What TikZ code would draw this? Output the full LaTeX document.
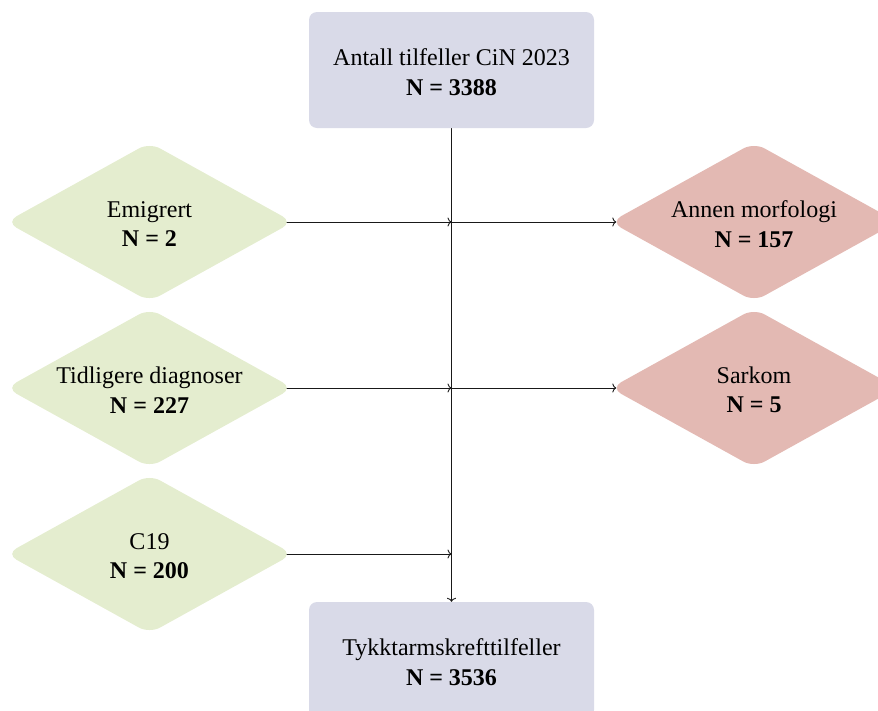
\documentclass[tikz,border=0pt]{standalone}
\usepackage{fontspec}
\setmainfont{Liberation Serif}
\usetikzlibrary{shapes.geometric,backgrounds,arrows.meta}
\definecolor{boxc}{HTML}{D9DAE8}
\definecolor{greenc}{HTML}{E4EDCF}
\definecolor{redc}{HTML}{E3B9B3}
\begin{document}
\begin{tikzpicture}[x=1pt,y=-1pt,
  txt/.style={align=center,font=\fontsize{24}{29.5}\selectfont,inner sep=0pt,yshift=-2pt},
  box/.style={rectangle,rounded corners=8pt,fill=boxc,minimum width=285pt,minimum height=116pt,inner sep=0pt},
  dia/.style={diamond,rounded corners=12pt,minimum width=287pt,minimum height=159pt,inner sep=0pt},
  gdia/.style={dia,fill=greenc},
  rdia/.style={dia,fill=redc},
  conn/.style={draw=black!90,line width=0.9pt,-{To[length=4pt,width=9pt]}}]
\useasboundingbox (0,0) rectangle (878,710);
\clip (0,0) rectangle (878,710);
\node[box] (top) at (451.5,70) {};
\node[txt] (topt) at (top.center) {Antall tilfeller CiN 2023\\\textbf{N = 3388}};
\node[box] (bot) at (451.5,660) {};
\node[txt] (bott) at (bot.center) {Tykktarmskrefttilfeller\\\textbf{N = 3536}};
\node[gdia] (emi) at (149.5,222) {};
\node[txt] (emit) at (emi.center) {Emigrert\\\textbf{N = 2}};
\node[gdia] (tid) at (149.5,388) {};
\node[txt] (tidt) at (tid.center) {Tidligere diagnoser\\\textbf{N = 227}};
\node[gdia] (c19) at (149.5,554) {};
\node[txt] (c19t) at (c19.center) {C19\\\textbf{N = 200}};
\node[rdia] (ann) at (754,222) {};
\node[txt] (annt) at (ann.center) {Annen morfologi\\\textbf{N = 157}};
\node[rdia] (sar) at (754,388) {};
\node[txt] (sart) at (sar.center) {Sarkom\\\textbf{N = 5}};
\coordinate (j1) at (emi -| top.south);
\coordinate (j2) at (tid -| top.south);
\coordinate (j3) at (c19 -| top.south);
\begin{pgfonlayer}{background}
\draw[conn] (top.south) -- (bot.north);
\draw[conn] (emi.center) -- (j1);
\draw[conn] (tid.center) -- (j2);
\draw[conn] (c19.center) -- (j3);
\end{pgfonlayer}
\draw[conn,shorten >=-6pt] (j1) -- (ann.west);
\draw[conn,shorten >=-6pt] (j2) -- (sar.west);
\end{tikzpicture}
\end{document}
